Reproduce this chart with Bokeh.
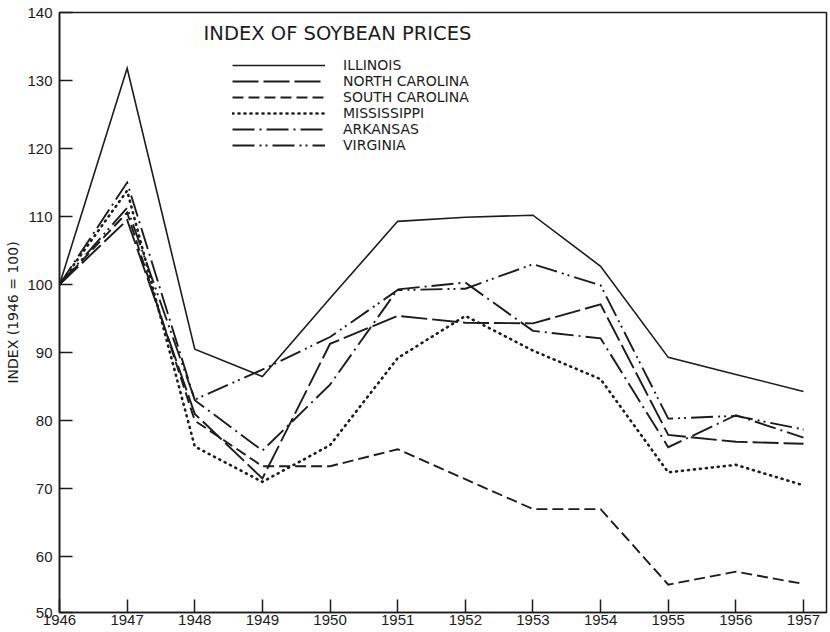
from bokeh.plotting import figure
from bokeh.models import FixedTicker, Range1d, Legend, LegendItem, Label
from bokeh.embed import file_html
from bokeh.resources import INLINE

years = [1946, 1947, 1948, 1949, 1950, 1951, 1952, 1953, 1954, 1955, 1956, 1957]
illinois = [100, 131.8, 90.5, 86.5, 98.0, 109.3, 109.9, 110.2, 102.7, 89.3, 86.8, 84.3]
north_carolina = [100, 109.5, 81.0, 71.5, 91.3, 95.4, 94.4, 94.3, 97.1, 77.9, 76.9, 76.6]
south_carolina = [100, 110.6, 80.0, 73.3, 73.3, 75.8, 71.4, 67.0, 67.0, 55.9, 57.8, 56.0]
mississippi = [100, 113.8, 76.2, 71.0, 76.4, 89.2, 95.4, 90.3, 86.1, 72.4, 73.5, 70.5]
arkansas = [100, 115.0, 83.0, 75.6, 85.3, 99.3, 100.3, 93.2, 92.1, 76.1, 80.8, 77.5]
virginia = [100, 111.3, 83.1, 87.5, 92.3, 99.2, 99.4, 103.0, 99.9, 80.3, 80.7, 78.7]
y_ticks = [51.8, 60, 70, 80, 90, 100, 110, 120, 130, 140]
y_tick_labels = {51.8: "50"}

series = [
    ("ILLINOIS", illinois, "solid", 1.6, "butt"),
    ("NORTH CAROLINA", north_carolina, "26 5", 1.9, "butt"),
    ("SOUTH CAROLINA", south_carolina, "11 5", 1.9, "butt"),
    ("MISSISSIPPI", mississippi, "1 5", 2.6, "round"),
    ("ARKANSAS", arkansas, "22 5 2 5", 1.9, "butt"),
    ("VIRGINIA", virginia, "22 5 2 4 2 5", 1.9, "butt"),
]

TICK_FONT = "Liberation Sans"
FONT = "DejaVu Sans"
INK = "#1c1c1c"

p = figure(width=830, height=632, output_backend="svg", toolbar_location=None,
           x_range=Range1d(1946, 1957.34), y_range=Range1d(51.8, 140),
           min_border_left=59, min_border_right=4, min_border_top=12, min_border_bottom=20)
p.background_fill_color = "white"
p.border_fill_color = "white"
p.outline_line_color = INK
p.outline_line_width = 1.5
p.grid.visible = False

p.xaxis.ticker = FixedTicker(ticks=years)
p.yaxis.ticker = FixedTicker(ticks=y_ticks)
p.yaxis.major_label_overrides = y_tick_labels
for ax in (p.xaxis[0], p.yaxis[0]):
    ax.major_tick_in = 13
    ax.major_tick_out = 0
    ax.minor_tick_in = 0
    ax.minor_tick_out = 0
    ax.axis_line_color = INK
    ax.axis_line_width = 1.6
    ax.major_tick_line_color = INK
    ax.major_tick_line_width = 1.5
    ax.major_label_text_font = TICK_FONT
    ax.major_label_text_font_size = "15px"
    ax.major_label_text_color = INK
p.xaxis.major_label_standoff = 2
p.yaxis.major_label_standoff = 7
p.yaxis.axis_label = "INDEX (1946 = 100)"
p.yaxis.axis_label_text_font = FONT
p.yaxis.axis_label_text_font_size = "14px"
p.yaxis.axis_label_text_font_style = "normal"
p.yaxis.axis_label_text_color = INK
p.yaxis.axis_label_standoff = 3

items = []
for name, vals, dash, w, cap in series:
    r = p.line(years, vals, line_color=INK, line_width=w, line_dash=dash, line_cap=cap, line_join="miter")
    items.append(LegendItem(label=name, renderers=[r]))

legend = Legend(items=items, location=(173, 459), glyph_width=93, glyph_height=16,
                label_height=16, label_standoff=18, spacing=0, padding=0, margin=0,
                border_line_color=None, background_fill_alpha=0,
                label_text_font=FONT, label_text_font_size="14px", label_text_color=INK)
p.add_layout(legend)

p.add_layout(Label(x=1948.13, y=136.9, text="INDEX OF SOYBEAN PRICES", text_font=FONT,
                   text_font_size="19.5px", text_baseline="middle", text_color=INK))

open("out.html", "w").write(file_html(p, INLINE))
